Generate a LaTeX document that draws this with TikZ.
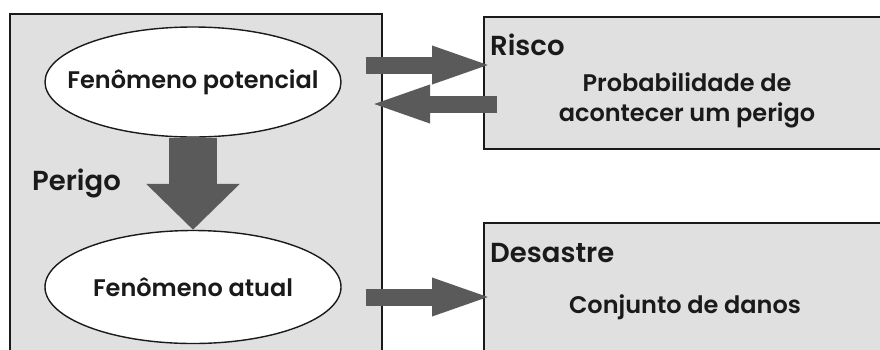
\documentclass[tikz,border=0pt]{standalone}
\usepackage{fontspec}
\setmainfont{Poppins}[UprightFont=* SemiBold]
\usetikzlibrary{arrows.meta,shapes.geometric}
\definecolor{panel}{HTML}{E0E0E0}
\definecolor{arrowgray}{HTML}{5A5A5A}
\definecolor{ink}{HTML}{1A1A1A}
\tikzset{
  x=1pt, y=1pt,
  panelbox/.style={draw=ink, line width=1.8pt, fill=panel, anchor=north west, inner sep=0pt},
  phenom/.style={ellipse, draw=ink, line width=1.4pt, fill=white, minimum width=296pt, minimum height=110pt, inner sep=0pt},
  bodytext/.style={text=ink, font=\fontsize{24}{30}\selectfont, align=center, inner sep=0pt},
  headtext/.style={text=ink, font=\fontsize{27.5}{30}\selectfont, anchor=base west, inner sep=0pt},
  fatarrow/.style={draw=arrowgray, line width=17pt, -{Triangle[length=63pt,width=33pt]}},
  downarrow/.style={draw=arrowgray, line width=48pt, -{Triangle[length=46pt,width=91pt]}},
}
\begin{document}
\begin{tikzpicture}
\useasboundingbox (0,0) rectangle (880,-349);
\fill[white] (0,0) rectangle (880,-349);
\clip (0,0) rectangle (880,-349);
% panels
\node[panelbox, minimum width=372pt, minimum height=360pt] (hazard) at (9,-13) {};
\node[panelbox, minimum width=420pt, minimum height=132pt] (risk) at (483,-16) {};
\node[panelbox, minimum width=420pt, minimum height=150pt] (disaster) at (483,-222) {};
% phenomena
\node[phenom] (pot) at (193,-82) {};
\node[bodytext] at (pot.center) {Fenômeno potencial};
\node[phenom, minimum height=113pt] (cur) at (193,-287) {};
\node[bodytext] at (cur.center) {Fenômeno atual};
% labels
\node[headtext] (perigo) at (32,-190) {Perigo};
\node[headtext] (risco) at (490,-55) {Risco};
\node[bodytext] (prob) at (687,-100) {Probabilidade de\\acontecer um perigo};
\node[headtext] (desastre) at (490,-262) {Desastre};
\node[bodytext] (danos) at (685,-307) {Conjunto de danos};
% connector end points
\coordinate (toRiskA) at (366,-65);
\coordinate (toRiskB) at (495,-65);
\coordinate (fromRiskA) at (497,-104);
\coordinate (fromRiskB) at (367,-104);
\coordinate (toDisA) at (366,-297);
\coordinate (toDisB) at (495,-297);
% arrows
\draw[fatarrow] (toRiskA) -- (toRiskB);
\draw[fatarrow] (fromRiskA) -- (fromRiskB);
\draw[fatarrow] (toDisA) -- (toDisB);
\draw[downarrow] (pot.south) -- (cur.north);
\end{tikzpicture}
\end{document}
